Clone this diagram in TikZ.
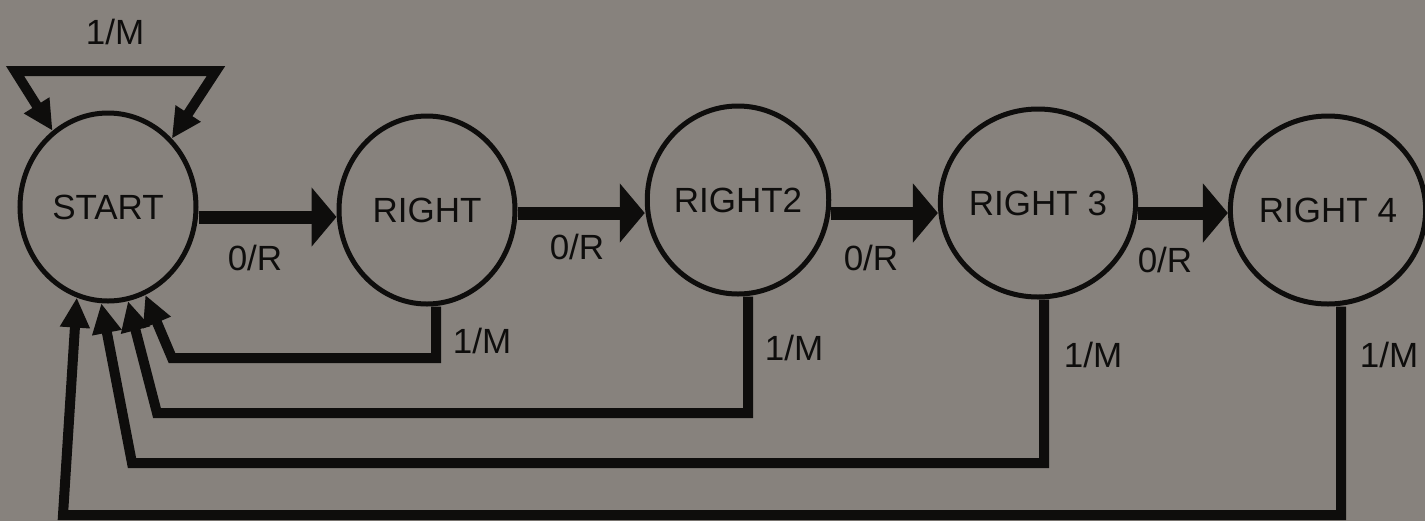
\documentclass[tikz,border=0pt]{standalone}
\usepackage{fontspec}
\setmainfont{Liberation Sans}
\usetikzlibrary{arrows.meta,shapes.geometric}
\definecolor{paper}{RGB}{135,130,125}
\definecolor{ink}{RGB}{14,13,12}
\begin{document}
\begin{tikzpicture}[x=0.5pt,y=-0.5pt,
  stnode/.style={ellipse, draw=ink, line width=2.5pt, minimum width=88pt,
    minimum height=94pt, inner sep=0pt, text=ink,
    font=\fontsize{17.5}{20}\selectfont},
  lbl/.style={inner sep=0pt, text=ink, font=\fontsize{17.5}{20}\selectfont},
  advance/.style={draw=ink, line width=6.5pt,
    -{Triangle[length=12.5pt,width=29pt]}},
  retline/.style={draw=ink, line width=5pt, line join=miter,
    -{Triangle[length=15pt,width=14pt]}},
  looptip/.tip={Triangle[length=15pt,width=14pt]},
]
% canvas
\fill[paper] (0,0) rectangle (1425,521);
\useasboundingbox (0,0) rectangle (1425,521);

% states
\node[stnode] (S)  at (108,207)  {START};
\node[stnode] (R1) at (427,210)  {RIGHT};
\node[stnode] (R2) at (738,200)  {RIGHT2};
\node[stnode] (R3) at (1038,203) {RIGHT 3};
\node[stnode] (R4) at (1328,210) {RIGHT 4};

% 0/R transitions
\draw[advance] (S.east |- 0,217)  -- (R1.west |- 0,217);
\draw[advance] (R1.east |- 0,213) -- (R2.west |- 0,213);
\draw[advance] (R2.east |- 0,213) -- (R3.west |- 0,213);
\draw[advance] (R3.east |- 0,213) -- (R4.west |- 0,213);

% self loop on START
\coordinate (lpL) at (15,71);
\coordinate (lpR) at (216,71);
\draw[draw=ink, line width=5pt, line join=miter, looptip-looptip]
  (S.126) -- (lpL) -- (lpR) -- (S.47);

% 1/M returns to START
\coordinate (c1) at (172,358);
\coordinate (c2) at (157,413);
\coordinate (c3) at (132,463);
\coordinate (c4) at (63,515);
\draw[retline] (R1.south -| 436,0)  |- (c1) -- (S.-67.7);
\draw[retline] (R2.south -| 748,0)  |- (c2) -- (S.-78.6);
\draw[retline] (R3.south -| 1044,0) |- (c3) -- (S.-94);
\draw[retline] (R4.south -| 1341,0) |- (c4) -- (S.-109);

% labels
\node[lbl] (m0) at (115,32)   {1/M};
\node[lbl] (m1) at (482,341)  {1/M};
\node[lbl] (m2) at (794,348)  {1/M};
\node[lbl] (m3) at (1093,355) {1/M};
\node[lbl] (m4) at (1389,355) {1/M};
\node[lbl] (r1) at (255,258)  {0/R};
\node[lbl] (r2) at (577,247)  {0/R};
\node[lbl] (r3) at (871,258)  {0/R};
\node[lbl] (r4) at (1165,260) {0/R};
\end{tikzpicture}
\end{document}
